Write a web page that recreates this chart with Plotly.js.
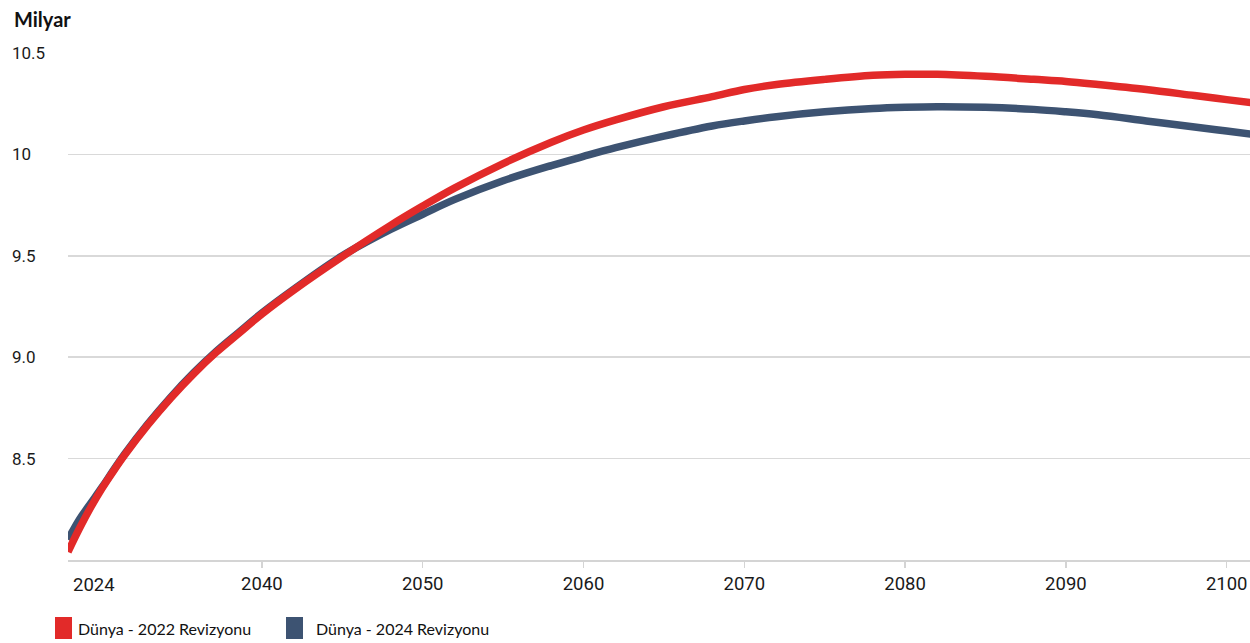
<!DOCTYPE html>
<html>
<head>
<meta charset="utf-8">
<script src="https://cdn.plot.ly/plotly-3.0.1.min.js"></script>
<style>
  html, body { margin: 0; padding: 0; background: #fff; }
  #chart { width: 1250px; height: 643px; }
</style>
</head>
<body>
<div id="chart"></div>
<script>
// World population projections, billions (UN WPP revisions)
const years = [2023, 2024, 2025, 2026, 2027, 2028, 2030, 2032, 2034, 2036, 2038, 2040,
  2042, 2045, 2048, 2050, 2052, 2055, 2058, 2060, 2062, 2065, 2068, 2070, 2072, 2075,
  2078, 2080, 2082, 2085, 2088, 2090, 2092, 2095, 2098, 2100, 2102];

const rev2022 = [8.04, 8.155, 8.26, 8.355, 8.44, 8.52, 8.666, 8.798, 8.917, 9.024, 9.119, 9.213,
  9.332, 9.496, 9.65, 9.745, 9.835, 9.955, 10.06, 10.12, 10.17, 10.235, 10.285, 10.32, 10.345, 10.37,
  10.39, 10.395, 10.395, 10.385, 10.37, 10.36, 10.345, 10.32, 10.29, 10.27, 10.25];

const rev2024 = [8.10, 8.20, 8.28, 8.36, 8.444, 8.525, 8.671, 8.803, 8.922, 9.029, 9.124, 9.218,
  9.336, 9.50, 9.63, 9.705, 9.778, 9.87, 9.945, 9.99, 10.033, 10.09, 10.14, 10.165, 10.186, 10.21,
  10.226, 10.232, 10.235, 10.232, 10.222, 10.21, 10.195, 10.165, 10.135, 10.115, 10.095];

const seriesNames = ['Dünya - 2022 Revizyonu', 'Dünya - 2024 Revizyonu'];
const seriesColors = ['#e22a29', '#3d5372'];

const xTickYears = [2040, 2050, 2060, 2070, 2080, 2090, 2100];
const startLabel = '2024';
const yTickVals = [8.5, 9.0, 9.5, 10, 10.5];
const yTickText = ['8.5', '9.0', '9.5', '10', '10.5'];
const unitLabel = 'Milyar';

// The axis is compressed before 2040: those years take less room per year.
const BREAK = 2040, FIRST = 2023, COMPRESS = 0.7094;
function axisPos(y) {
  return y >= BREAK ? y : BREAK - (BREAK - y) * COMPRESS;
}
const xs = years.map(axisPos);

const textColor = '#1a1a1a';
const tickFont = { family: 'Roboto, sans-serif', size: 18.5, color: textColor };
const yFont = { family: 'Roboto, sans-serif', size: 17, color: textColor };
const legendFont = { family: 'Lato, sans-serif', size: 16, color: '#111' };

const traces = [
  { x: xs, y: rev2024, name: seriesNames[1], type: 'scatter', mode: 'lines',
    line: { color: seriesColors[1], width: 7.5, shape: 'spline', smoothing: 1 }, showlegend: false },
  { x: xs, y: rev2022, name: seriesNames[0], type: 'scatter', mode: 'lines',
    line: { color: seriesColors[0], width: 7.5, shape: 'spline', smoothing: 1 }, showlegend: false }
];

const W = 1250, H = 643;
const M = { l: 68, r: 0, t: 53, b: 83 };
const pw = W - M.l - M.r, ph = H - M.t - M.b;
const px = v => (v - M.l) / pw;      // pixel x -> paper x
const py = v => (H - M.b - v) / ph;  // pixel y -> paper y

const annotations = [];
// unit label
annotations.push({ xref: 'paper', yref: 'paper', x: px(12), y: py(5), xanchor: 'left', yanchor: 'top',
  text: '<b>' + unitLabel + '</b>', showarrow: false, font: { family: 'Lato, sans-serif', size: 20, color: '#111' } });
// left-aligned y tick labels
yTickVals.forEach((v, i) => {
  annotations.push({ xref: 'paper', yref: 'y', x: px(10), y: v, xanchor: 'left', yanchor: 'middle',
    text: yTickText[i], showarrow: false, font: yFont });
});
// label at the start of the series
annotations.push({ xref: 'paper', yref: 'paper', x: px(71), y: py(572), xanchor: 'left', yanchor: 'top',
  text: startLabel, showarrow: false, font: tickFont });

// legend: coloured squares with labels
const shapes = [];
const legendItems = [{ sx: 55, tx: 76 }, { sx: 286, tx: 314 }];
legendItems.forEach((it, i) => {
  shapes.push({ type: 'rect', xref: 'paper', yref: 'paper', x0: px(it.sx), x1: px(it.sx + 17),
    y0: py(617), y1: py(639), fillcolor: seriesColors[i], line: { width: 0 } });
  annotations.push({ xref: 'paper', yref: 'paper', x: px(it.tx), y: py(628), xanchor: 'left', yanchor: 'middle',
    text: seriesNames[i], showarrow: false, font: legendFont });
});

const layout = {
  width: W, height: H,
  margin: M,
  paper_bgcolor: '#fff', plot_bgcolor: '#fff',
  showlegend: false,
  xaxis: {
    range: [axisPos(FIRST), 2101.45],
    tickvals: xTickYears.map(axisPos), ticktext: xTickYears.map(String),
    showgrid: false, zeroline: false,
    showline: true, linecolor: '#d4d4d4', linewidth: 1.5,
    ticks: 'outside', ticklen: 6, tickwidth: 1.5, tickcolor: '#d4d4d4',
    tickfont: tickFont, fixedrange: true
  },
  yaxis: {
    range: [8.0, 10.5],
    tickvals: yTickVals, showticklabels: false,
    showgrid: true, gridcolor: '#d9d9d9', gridwidth: 1.5,
    zeroline: false, showline: false, ticks: '', fixedrange: true
  },
  annotations: annotations,
  shapes: shapes
};

Plotly.newPlot('chart', traces, layout, { displayModeBar: false, staticPlot: true });
</script>
</body>
</html>
